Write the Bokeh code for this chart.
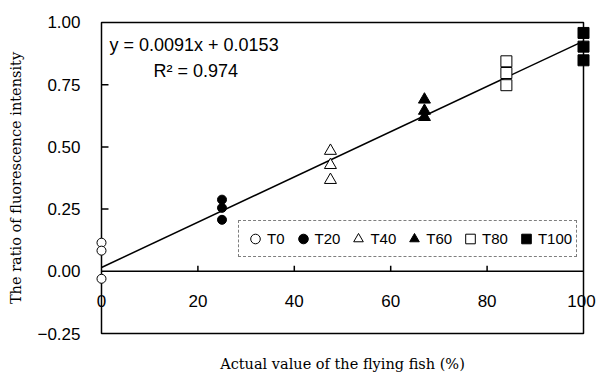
from bokeh.plotting import figure
from bokeh.models import (Legend, LegendItem, FixedTicker, NumeralTickFormatter, Range1d)
from bokeh.core.properties import value
from bokeh.embed import file_html
from bokeh.resources import INLINE

# ---- data ----
t0_x = [0, 0, 0]
t0_y = [0.115, 0.083, -0.030]
t20_x = [25, 25, 25]
t20_y = [0.288, 0.255, 0.207]
t40_x = [47.5, 47.5, 47.5]
t40_y = [0.484, 0.427, 0.367]
t60_x = [67, 67, 67]
t60_y = [0.690, 0.645, 0.620]
t80_x = [84, 84, 84]
t80_y = [0.844, 0.797, 0.748]
t100_x = [100, 100, 100]
t100_y = [0.958, 0.903, 0.848]

slope = 0.0091
intercept = 0.0153
fit_x = [0, 100]

x_min, x_max = 0, 100
y_min, y_max = -0.25, 1.0
x_ticks = [0, 20, 40, 60, 80, 100]
x_tick_labels = ["0", "20", "40", "60", "80", "100"]
y_ticks = [-0.25, 0.0, 0.25, 0.5, 0.75, 1.0]

equation = "y = 0.0091x + 0.0153"
r2_text = "R\u00b2 = 0.974"
x_title = "Actual value of the flying fish (%)"
y_title = "The ratio of fluorescence intensity"

SANS = "Liberation Sans"
SERIF = "DejaVu Serif"

p = figure(width=596, height=374, output_backend="svg", toolbar_location=None,
           x_range=Range1d(-2.697, 102.697), y_range=Range1d(-0.258, 1.008),
           min_border_left=88, min_border_right=0, min_border_top=20,
           min_border_bottom=38)
p.xgrid.visible = False
p.ygrid.visible = False
p.outline_line_color = None
p.background_fill_color = "white"
p.border_fill_color = "white"

# y axis (labels + title only; ticks drawn inside the box)
ya = p.yaxis[0]
ya.ticker = FixedTicker(ticks=y_ticks)
ya.formatter = NumeralTickFormatter(format="0.00")
ya.major_label_overrides = {-0.25: "\u22120.25"}
ya.major_tick_in = 0
ya.major_tick_out = 0
ya.major_tick_line_color = None
ya.minor_tick_line_color = None
ya.axis_line_color = None
ya.major_label_standoff = 8
ya.major_label_text_font = SANS
ya.major_label_text_font_size = "17px"
ya.major_label_text_color = "black"
ya.axis_label = y_title
ya.axis_label_text_font = SERIF
ya.axis_label_text_font_size = "14.5px"
ya.axis_label_text_font_style = "normal"
ya.axis_label_text_color = "black"
ya.axis_label_standoff = 10

# x axis (only title below)
xa = p.xaxis[0]
xa.ticker = FixedTicker(ticks=[])
xa.axis_line_color = None
xa.major_tick_line_color = None
xa.minor_tick_line_color = None
xa.major_label_text_font_size = "0px"
xa.axis_label = x_title
xa.axis_label_text_font = SERIF
xa.axis_label_text_font_size = "14.5px"
xa.axis_label_text_font_style = "normal"
xa.axis_label_text_color = "black"
xa.axis_label_standoff = 20

# plot box
p.quad(left=[x_min], right=[x_max], bottom=[y_min], top=[y_max],
       fill_color=None, line_color="black", line_width=1.5)

# inner y ticks
inner_y = [t for t in y_ticks if y_min < t < y_max and t != 0]
p.segment(x0=[x_min] * len(inner_y), y0=inner_y, x1=[x_min + 1.45] * len(inner_y),
          y1=inner_y, line_color="black", line_width=1.5)

# x axis line at y = 0 with upward ticks and labels
p.segment(x0=[x_min], y0=[0], x1=[x_max], y1=[0], line_color="black", line_width=1.5)
inner_x = x_ticks[1:-1]
p.segment(x0=inner_x, y0=[0] * len(inner_x), x1=inner_x, y1=[0.022] * len(inner_x),
          line_color="black", line_width=1.5)
p.text(x=x_ticks, y=[-0.118] * len(x_ticks), text=x_tick_labels,
       x_offset=[0, 0, 0, 0, 0, -2],
       text_font=value(SANS), text_font_size="17px", text_align="center",
       text_baseline="middle", text_color="black")

# regression line
p.line(x=fit_x, y=[slope * v + intercept for v in fit_x], line_color="black",
       line_width=1.5)

# data
r0 = p.scatter(t0_x, t0_y, marker="circle", size=9, fill_color="white",
               line_color="black", line_width=1)
r20 = p.scatter(t20_x, t20_y, marker="circle", size=9, fill_color="black",
                line_color="black")
r40 = p.scatter(t40_x, t40_y, marker="triangle", size=12, fill_color="white",
                line_color="black", line_width=1)
r60 = p.scatter(t60_x, t60_y, marker="triangle", size=12, fill_color="black",
                line_color="black")
r80 = p.scatter(t80_x, t80_y, marker="square", size=11, fill_color="white",
                line_color="black", line_width=1)
r100 = p.scatter(t100_x, t100_y, marker="square", size=11, fill_color="black",
                 line_color="black")

# equation text
p.text(x=[1.66], y=[0.908], text=[equation], text_font=value(SANS),
       text_font_size="18px", text_baseline="middle", text_color="black")
p.text(x=[10.8], y=[0.804], text=[r2_text], text_font=value(SANS),
       text_font_size="18px", text_baseline="middle", text_color="black")

legend = Legend(items=[LegendItem(label="T0", renderers=[r0]),
                       LegendItem(label="T20", renderers=[r20]),
                       LegendItem(label="T40", renderers=[r40]),
                       LegendItem(label="T60", renderers=[r60]),
                       LegendItem(label="T80", renderers=[r80]),
                       LegendItem(label="T100", renderers=[r100])],
                orientation="horizontal", location=(150, 78))
legend.border_line_color = "black"
legend.border_line_dash = "2 2"
legend.border_line_width = 1
legend.background_fill_color = "white"
legend.background_fill_alpha = 1
legend.label_text_font = SANS
legend.label_text_font_size = "15px"
legend.label_text_color = "black"
legend.glyph_width = 24
legend.glyph_height = 27
legend.label_standoff = 0
legend.label_width = 0
legend.spacing = 6
legend.padding = 4
legend.margin = 0
p.add_layout(legend)

open("out.html", "w").write(file_html(p, INLINE))
